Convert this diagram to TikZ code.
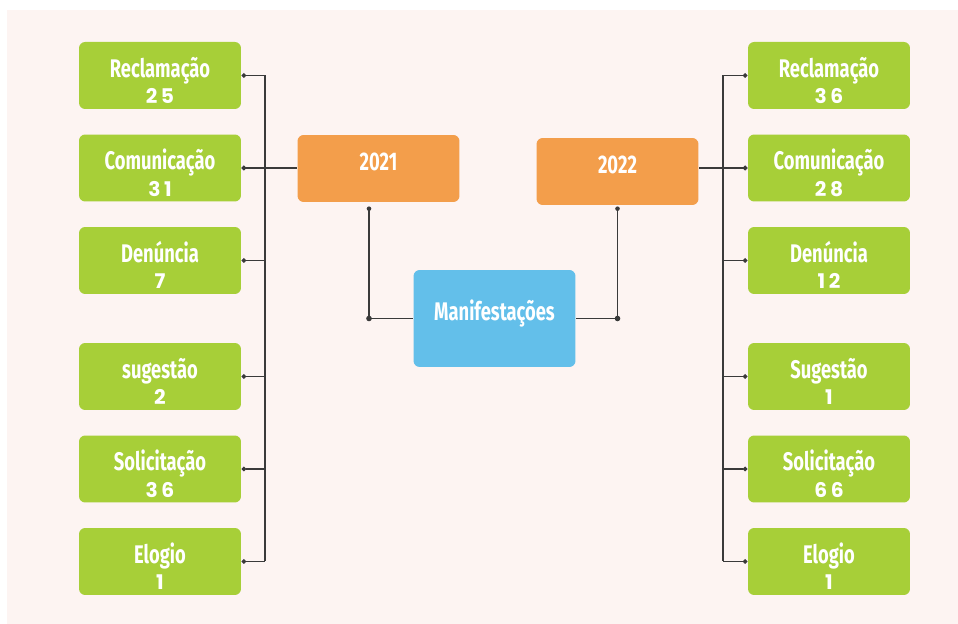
\documentclass[tikz,border=0pt]{standalone}
\usepackage{fontspec}
\usepackage{tikz}
\usetikzlibrary{calc,arrows.meta}

\newfontfamily\labelfont{Fira Sans}[FakeStretch=0.72]
\newfontfamily\numfont{Poppins}[LetterSpace=18]

\definecolor{bgpink}{HTML}{FDF4F2}
\definecolor{catgreen}{HTML}{A7CF38}
\definecolor{yearorange}{HTML}{F39E4B}
\definecolor{rootblue}{HTML}{63BFEA}
\definecolor{linegray}{HTML}{3A3A3A}

\begin{document}
\begin{tikzpicture}[x=0.02cm,y=-0.02cm,
  thick,
  box/.style={rounded corners=3.5pt,minimum width=3.24cm,minimum height=1.34cm,
    text=white,align=center,inner sep=0pt,
    font=\labelfont\bfseries\fontsize{14.5}{15}\selectfont},
  cat node/.style={box,fill=catgreen,text height=32pt,text depth=0pt},
  year node/.style={box,fill=yearorange,text height=10pt,text depth=8pt},
  root node/.style={box,fill=rootblue,minimum height=1.94cm,text height=10pt,text depth=8pt},
  link/.style={draw=linegray,line width=0.6pt},
  dot/.style={-{Circle[length=2.6pt]},link}]

  \useasboundingbox (0,0) rectangle (958,624);
  \fill[bgpink] (7,10) rectangle (958,624);

  % left column (2021)
  \node[cat node] (l1) at (160,75.5) {Reclamação\\[0pt]{\numfont\fontsize{11.5}{12}\selectfont 25}};
  \node[cat node] (l2) at (160,168) {Comunicação\\[0pt]{\numfont\fontsize{11.5}{12}\selectfont 31}};
  \node[cat node] (l3) at (160,260.5) {Denúncia\\[0pt]{\numfont\fontsize{11.5}{12}\selectfont 7}};
  \node[cat node] (l4) at (160,376.5) {sugestão\\[0pt]{\numfont\fontsize{11.5}{12}\selectfont 2}};
  \node[cat node] (l5) at (160,469) {Solicitação\\[0pt]{\numfont\fontsize{11.5}{12}\selectfont 36}};
  \node[cat node] (l6) at (160,561.5) {Elogio\\[0pt]{\numfont\fontsize{11.5}{12}\selectfont 1}};

  % right column (2022)
  \node[cat node] (r1) at (829,75.5) {Reclamação\\[0pt]{\numfont\fontsize{11.5}{12}\selectfont 36}};
  \node[cat node] (r2) at (829,168) {Comunicação\\[0pt]{\numfont\fontsize{11.5}{12}\selectfont 28}};
  \node[cat node] (r3) at (829,260.5) {Denúncia\\[0pt]{\numfont\fontsize{11.5}{12}\selectfont 12}};
  \node[cat node] (r4) at (829,376.5) {Sugestão\\[0pt]{\numfont\fontsize{11.5}{12}\selectfont 1}};
  \node[cat node] (r5) at (829,469) {Solicitação\\[0pt]{\numfont\fontsize{11.5}{12}\selectfont 66}};
  \node[cat node] (r6) at (829,561.5) {Elogio\\[0pt]{\numfont\fontsize{11.5}{12}\selectfont 1}};

  % years and root
  \node[year node] (y1) at (378.5,168.5) {2021};
  \node[year node] (y2) at (617.5,171.5) {2022};
  \node[root node] (m) at (494.5,318.5) {Manifestações};

  % trunks
  \coordinate (tl) at (265,0);
  \coordinate (tr) at (723,0);
  \draw[link] (l1.east -| tl) -- (l6.east -| tl);
  \draw[link] (r1.west -| tr) -- (r6.west -| tr);
  \foreach \i in {1,...,6} {
    \draw[dot] (l\i.east -| tl) -- (l\i.east);
    \draw[dot] (r\i.west -| tr) -- (r\i.west);
  }
  \draw[dot] (y1.west |- l2.east) -- (l2.east);
  \draw[dot] (y2.east |- r2.west) -- (r2.west);

  % years to root
  \coordinate (k1) at ($(y1.south)+(-9.5,6)$);
  \coordinate (k2) at ($(y2.south)+(0,3)$);
  \draw[link] (k1) |- (m.west);
  \draw[link] (k2) |- (m.east);
  \fill[linegray] (k1) circle (1.3pt) (k1 |- m.west) circle (1.6pt);
  \fill[linegray] (k2) circle (1.3pt) (k2 |- m.east) circle (1.6pt);
\end{tikzpicture}
\end{document}
